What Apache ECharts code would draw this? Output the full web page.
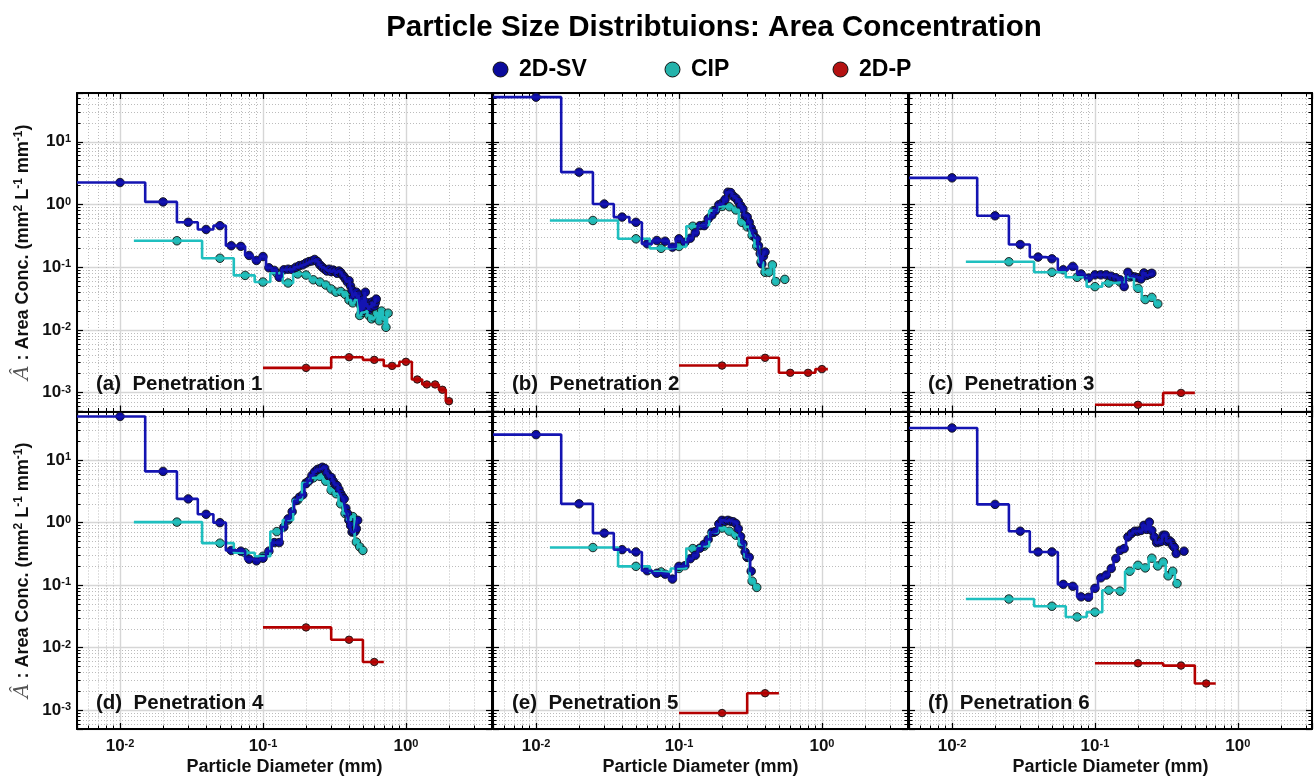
<!DOCTYPE html>
<html>
<head>
<meta charset="utf-8">
<script src="https://cdn.jsdelivr.net/npm/echarts@6/dist/echarts.min.js"></script>
<style>
  html, body { margin: 0; padding: 0; background: #ffffff; }
  #chart { width: 1314px; height: 777px; }
</style>
</head>
<body>
<div id="chart"></div>
<script>
// ---- Data -----------------------------------------------------------------
// Bin widths in mm; bin i is centred on (i + 1) * width.
// null marks an empty bin (no line segment, no marker).
const SV_BIN = 0.01;    // 2D-SV
const CIP_BIN = 0.025;  // CIP
const P_BIN = 0.2;      // 2D-P

const seriesNames = ['2D-SV', 'CIP', '2D-P'];
const panelTitles = ['(a)  Penetration 1', '(b)  Penetration 2', '(c)  Penetration 3',
                     '(d)  Penetration 4', '(e)  Penetration 5', '(f)  Penetration 6'];
const xTickDecades = [0.01, 0.1, 1];
const yTickDecades = [0.001, 0.01, 0.1, 1, 10];

// Area concentration (mm^2 L^-1 mm^-1), 2D-SV
const sv1 = [2.24, 1.10, 0.52, 0.40, 0.46, 0.22, 0.215, 0.154, 0.128, 0.148,
  0.098, 0.089, 0.069, 0.091, 0.093, 0.092, 0.100, 0.106, 0.109, 0.117,
  0.123, 0.126, 0.133, 0.123, 0.109, 0.100, 0.093, 0.087, 0.093, 0.085,
  0.090, 0.086, 0.080, 0.087, 0.082, 0.075, 0.070, 0.064, 0.058, 0.061,
  0.050, 0.043, 0.033, 0.037, 0.040, 0.032, 0.036, 0.025, 0.020, 0.030,
  0.021, 0.040, 0.023, 0.027, 0.021, 0.024, 0.023, 0.028, 0.026, 0.024,
  0.027, 0.031];
const sv2 = [51.5, 3.28, 1.02, 0.63, 0.52, 0.236, 0.267, 0.26, 0.209, 0.284,
  0.25, 0.29, 0.353, 0.46, 0.46, 0.59, 0.68, 0.80, 0.99, 1.05,
  1.20, 1.57, 1.55, 1.36, 1.26, 1.12, 0.96, 0.85, 0.67, 0.63,
  0.52, 0.42, 0.36, 0.30, 0.28, 0.22, 0.165, 0.113, 0.15, 0.175];
const sv3 = [2.66, 0.66, 0.23, 0.145, 0.136, 0.091, 0.103, 0.078, 0.067, 0.0755,
  0.0755, 0.0755, 0.072, 0.068, 0.063, 0.049, 0.083, 0.072, 0.070, 0.068,
  0.065, 0.081, 0.074, 0.077, 0.080];
const sv4 = [50, 6.6, 2.4, 1.36, 1.0, 0.36, 0.35, 0.26, 0.245, 0.27,
  0.35, 0.48, 0.48, 0.85, 1.15, 1.5, 2.25, 2.55, 2.8, 4.2,
  4.7, 5.7, 6.5, 7.1, 7.3, 7.7, 7.4, 6.2, 5.5, 5.3,
  4.6, 4.1, 3.9, 3.4, 2.9, 2.6, 2.4, 1.7, 1.4, 1.09,
  0.9, 0.71, 0.71, 0.72, 0.80, 1.09];
const sv5 = [25.6, 2.0, 0.68, 0.37, 0.34, 0.17, 0.155, 0.15, 0.125, 0.20,
  0.205, 0.265, 0.30, 0.39, 0.45, 0.54, 0.70, 0.72, 0.95, 1.09,
  1.05, 1.09, 1.05, 1.03, 0.97, 0.80, 0.60, 0.46, 0.34, 0.28,
  0.28, 0.167];
const sv6 = [32.7, 1.96, 0.73, 0.34, 0.34, 0.103, 0.096, 0.065, 0.064, 0.089,
  0.131, 0.145, 0.185, 0.267, 0.36, 0.385, 0.59, 0.67, 0.73, 0.73,
  0.75, 0.905, 0.78, 1.02, 0.75, 0.59, 0.48, 0.49, 0.50, 0.63,
  0.63, 0.50, 0.52, 0.49, 0.43, 0.40, 0.32, null, null, null,
  null, 0.35];

// CIP
const cip1 = [0.264, 0.139, 0.074, 0.058, 0.080, 0.056, 0.078, 0.075, 0.063, 0.058,
  0.052, 0.045, 0.040, 0.041, 0.037, 0.030, 0.027, 0.030, 0.017, 0.019,
  0.020, 0.017, 0.015, 0.016, 0.0185, 0.014, 0.020, 0.016, 0.011, 0.0185];
const cip2 = [0.556, 0.284, 0.20, 0.214, 0.45, 0.47, 0.80, 0.93, 0.92, 0.82,
  0.52, 0.44, 0.32, 0.215, 0.12, 0.083, 0.083, 0.109, 0.059, null,
  null, 0.064];
const cip3 = [0.122, 0.083, 0.069, 0.049, 0.056, 0.058, 0.070, 0.046, 0.0305, 0.033,
  0.026];
const cip4 = [1.02, 0.47, 0.33, 0.29, 0.72, 1.1, 2.3, 4.3, 5.2, 5.5,
  4.6, 3.3, 2.9, 2.0, 1.4, 1.1, 1.25, 0.49, 0.41, 0.36];
const cip5 = [0.40, 0.20, 0.163, 0.185, 0.385, 0.42, 0.70, 0.82, 0.73, 0.63,
  0.45, 0.28, 0.116, 0.092];
const cip6 = [0.060, 0.046, 0.031, 0.037, 0.083, 0.080, 0.167, 0.208, 0.189, 0.27,
  0.203, 0.235, 0.141, 0.167, 0.106];

// 2D-P
const p1 = [0.00248, 0.00367, 0.00333, 0.00267, 0.0031, 0.00162, 0.00135, 0.00135, 0.00111, 0.00073];
const p2 = [0.0027, 0.00359, 0.00207, 0.00207, 0.00237];
const p3 = [0.00064, 0.00099];
const p4 = [0.0211, 0.0134, 0.0059];
const p5 = [0.0009, 0.00187];
const p6 = [0.00564, 0.00517, 0.00267];

const svPanels = [sv1, sv2, sv3, sv4, sv5, sv6];
const cipPanels = [cip1, cip2, cip3, cip4, cip5, cip6];
const pPanels = [p1, p2, p3, p4, p5, p6];

// ---- Layout & style -------------------------------------------------------
const FONT = '"Liberation Sans", Arial, Helvetica, sans-serif';
const X_MIN = 0.005;
const X_MAX = [4, 4, 3.3];
const Y_MIN = 0.0005, Y_MAX = 60;
const COL_LEFT = [77, 493, 909];
const COL_W = [415, 415, 403];
const ROW_TOP = [93, 411.5];
const ROW_H = 318.5;

const LINE_COLOR = { '2D-SV': '#1414b2', 'CIP': '#1fbfbf', '2D-P': '#b30000' };
const MARK_COLOR = { '2D-SV': '#0b0b9c', 'CIP': '#25b3ab', '2D-P': '#b41212' };

const TICK_RICH = {
  b: { fontSize: 17, fontWeight: 'bold', fontFamily: FONT, color: '#111' },
  s: { fontSize: 11, fontWeight: 'bold', fontFamily: FONT, color: '#111', verticalAlign: 'top' }
};

function decadeLabel(decades) {
  return function (v) {
    for (const d of decades) {
      if (Math.abs(Math.log10(v) - Math.log10(d)) < 1e-6) {
        return '{b|10}{s|' + Math.round(Math.log10(d)) + '}';
      }
    }
    return '';
  };
}

// Histogram bins drawn as a stepped outline
function stepPoints(values, width) {
  const pts = [];
  values.forEach(function (v, i) {
    const c = width * (i + 1);
    if (v == null) { pts.push(['-', '-']); return; }
    pts.push([c - width / 2, v], [c + width / 2, v]);
  });
  return pts;
}
function markerPoints(values, width) {
  const pts = [];
  values.forEach(function (v, i) {
    if (v != null) pts.push([+(width * (i + 1)).toFixed(4), v]);
  });
  return pts;
}

const grids = [], xAxes = [], yAxes = [], series = [], graphics = [];

const axisLineStyle = { show: true, lineStyle: { color: '#000', width: 2 } };
const majorTick = { show: true, inside: true, length: 6, lineStyle: { color: '#000', width: 1.2 } };
const minorTick = { show: true, splitNumber: 9, length: 3.5, lineStyle: { color: '#000', width: 1 } };

for (let i = 0; i < 6; i++) {
  const col = i % 3, row = Math.floor(i / 3);
  grids.push({ left: COL_LEFT[col], top: ROW_TOP[row], width: COL_W[col], height: ROW_H, containLabel: false });

  const xBase = {
    type: 'log', logBase: 10, gridIndex: i, min: X_MIN, max: X_MAX[col],
    axisLine: axisLineStyle, axisTick: majorTick, minorTick: minorTick
  };
  xAxes.push(Object.assign({}, xBase, {
    position: 'bottom',
    axisLabel: {
      show: row === 1, formatter: decadeLabel(xTickDecades), margin: 9,
      showMinLabel: false, showMaxLabel: false, rich: TICK_RICH
    },
    splitLine: { show: true, lineStyle: { color: '#d6d6d6', width: 1.4 } },
    minorSplitLine: { show: true, lineStyle: { color: '#bcbcbc', width: 1, type: [1, 2] } },
    name: row === 1 ? 'Particle Diameter (mm)' : '',
    nameLocation: 'middle', nameGap: 29,
    nameTextStyle: { fontSize: 18, fontWeight: 'bold', fontFamily: FONT, color: '#111' }
  }));
  xAxes.push(Object.assign({}, xBase, {
    position: 'top', axisLabel: { show: false },
    splitLine: { show: false }, minorSplitLine: { show: false }
  }));

  const yBase = {
    type: 'log', logBase: 10, gridIndex: i, min: Y_MIN, max: Y_MAX,
    axisLine: axisLineStyle, axisTick: majorTick, minorTick: minorTick
  };
  yAxes.push(Object.assign({}, yBase, {
    position: 'left',
    axisLabel: {
      show: col === 0, formatter: decadeLabel(yTickDecades), margin: 6,
      showMinLabel: false, showMaxLabel: false, rich: TICK_RICH
    },
    splitLine: { show: true, lineStyle: { color: '#d6d6d6', width: 1.4 } },
    minorSplitLine: { show: true, lineStyle: { color: '#bcbcbc', width: 1, type: [1, 2] } },
    name: col === 0 ? '{hat|Â} : Area Conc. (mm{sup|2} L{sup|-1} mm{sup|-1})' : '',
    nameLocation: 'middle', nameGap: 44, nameRotate: 90,
    nameTextStyle: {
      fontSize: 18, fontWeight: 'bold', fontFamily: FONT, color: '#111',
      rich: {
        hat: { fontSize: 20, fontFamily: '"DejaVu Serif", serif', fontStyle: 'italic', fontWeight: 'normal', color: '#555' },
        sup: { fontSize: 12, fontWeight: 'bold', fontFamily: FONT, color: '#111', verticalAlign: 'top' }
      }
    }
  }));
  yAxes.push(Object.assign({}, yBase, {
    position: 'right', axisLabel: { show: false },
    splitLine: { show: false }, minorSplitLine: { show: false }
  }));

  const sets = [['CIP', cipPanels[i], CIP_BIN], ['2D-SV', svPanels[i], SV_BIN], ['2D-P', pPanels[i], P_BIN]];
  sets.forEach(function (s) {
    series.push({
      name: s[0], type: 'line', xAxisIndex: 2 * i, yAxisIndex: 2 * i,
      data: stepPoints(s[1], s[2]), showSymbol: false, symbol: 'none',
      connectNulls: false, clip: true, silent: true,
      lineStyle: { color: LINE_COLOR[s[0]], width: 2.6 },
      itemStyle: { color: LINE_COLOR[s[0]] }
    });
  });
  sets.forEach(function (s) {
    series.push({
      name: s[0], type: 'scatter', xAxisIndex: 2 * i, yAxisIndex: 2 * i,
      data: markerPoints(s[1], s[2]), symbol: 'circle',
      symbolSize: s[0] === '2D-P' ? 7.5 : 8.5, clip: true, silent: true,
      itemStyle: { color: MARK_COLOR[s[0]], borderColor: '#111', borderWidth: 0.9, opacity: 1 }
    });
  });

  graphics.push({
    type: 'text', x: COL_LEFT[col] + 19, y: ROW_TOP[row] + ROW_H - 27,
    style: {
      text: panelTitles[i], font: 'bold 20.5px ' + FONT, fill: '#111',
      textAlign: 'left', textVerticalAlign: 'middle', align: 'left', verticalAlign: 'middle'
    }, z: 100
  });
}

graphics.push({
  type: 'text', x: 714, y: 28,
  style: {
    text: 'Particle Size Distribtuions: Area Concentration', font: 'bold 29.5px ' + FONT, fill: '#000',
    textAlign: 'center', textVerticalAlign: 'middle', align: 'center', verticalAlign: 'middle'
  }
});

const legendCentres = [500, 672, 840];
const legends = seriesNames.map(function (name, k) {
  return {
    data: [{ name: name, itemStyle: { color: MARK_COLOR[name], borderColor: '#111', borderWidth: 1 } }],
    left: legendCentres[k] - 7.5, top: 58, padding: 0, icon: 'circle', itemWidth: 15, itemHeight: 15,
    selectedMode: false,
    textStyle: { fontSize: 23, fontWeight: 'bold', fontFamily: FONT, color: '#000', padding: [0, 0, 0, 6] }
  };
});

const chart = echarts.init(document.getElementById('chart'), null, { renderer: 'canvas' });
chart.setOption({
  animation: false,
  backgroundColor: '#ffffff',
  grid: grids,
  xAxis: xAxes,
  yAxis: yAxes,
  legend: legends,
  series: series,
  graphic: graphics
});
</script>
</body>
</html>
